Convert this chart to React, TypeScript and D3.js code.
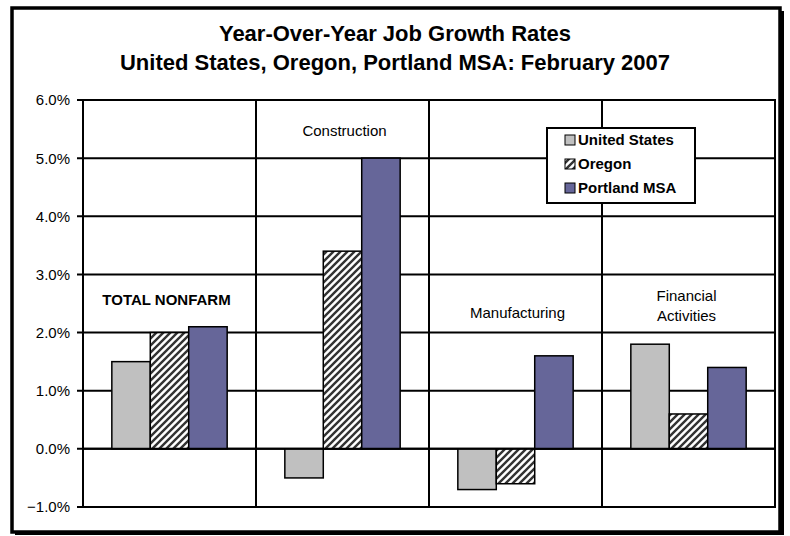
import React from "react";
import * as d3 from "d3";

const categories = ["TOTAL NONFARM", "Construction", "Manufacturing", "Financial Activities"];
const seriesNames = ["United States", "Oregon", "Portland MSA"];
const usValues = [1.5, -0.5, -0.7, 1.8];
const oregonValues = [2.0, 3.4, -0.6, 0.6];
const portlandValues = [2.1, 5.0, 1.6, 1.4];
const yTicks = [-1, 0, 1, 2, 3, 4, 5, 6];
const titleLines = ["Year-Over-Year Job Growth Rates", "United States, Oregon, Portland MSA: February 2007"];
// category label text lines
const categoryLabelLines = [["TOTAL NONFARM"], ["Construction"], ["Manufacturing"], ["Financial", "Activities"]];

const FONT = "'Liberation Sans', Arial, Helvetica, sans-serif";
const W = 790;
const H = 536;
const plot = { left: 83, right: 775, top: 100, bottom: 507 };
// label anchor heights in % units (where the text annotation sits inside each band)
const labelAnchorPct = [2.57, 5.47, 2.34, 2.47];
const labelBold = [true, false, false, false];

export default function App() {
  const x = d3.scaleBand<string>().domain(categories).range([plot.left, plot.right]).paddingInner(0).paddingOuter(0);
  const xs = d3.scaleBand<string>().domain(seriesNames).range([0, x.bandwidth()]).paddingInner(0).paddingOuter(0.75);
  const y = d3.scaleLinear().domain([-1, 6]).range([plot.bottom, plot.top]);
  const fmt = (v: number) => d3.format(".1f")(v) + "%";
  const seriesData = [usValues, oregonValues, portlandValues];
  const fills = ["#C0C0C0", "url(#hatch)", "#666699"];

  const legend = { x: 547, y: 128, w: 148, h: 75 };

  return (
    <svg width={W} height={H} style={{ position: "absolute", left: 0, top: 0, background: "#fff" }} fontFamily={FONT}>
      <defs>
        <pattern id="hatch" patternUnits="userSpaceOnUse" width={7} height={7}>
          <rect width={7} height={7} fill="#fff" />
          <path d="M-1.75,1.75 L1.75,-1.75 M0,7 L7,0 M5.25,8.75 L8.75,5.25" stroke="#333" strokeWidth={2.4} />
        </pattern>
      </defs>
      <rect x={0} y={0} width={W} height={H} fill="#fff" />
      {/* frame shadow */}
      <rect x={15} y={11} width={769} height={524} fill="#000" />
      <rect x={12} y={8} width={768} height={524} fill="#fff" stroke="#000" strokeWidth={3.5} />

      {/* title */}
      {titleLines.map((t, i) => (
        <text key={i} x={(plot.left + plot.right) / 2 - 34} y={41 + i * 29} textAnchor="middle" fontSize={22} fontWeight="bold" fill="#000">
          {t}
        </text>
      ))}

      {/* plot area */}
      <rect x={plot.left} y={plot.top} width={plot.right - plot.left} height={plot.bottom - plot.top} fill="#fff" stroke="#000" strokeWidth={2} />
      {yTicks.map((t) => (
        <g key={t}>
          <line x1={plot.left - 6} x2={plot.right} y1={y(t)} y2={y(t)} stroke="#000" strokeWidth={2} />
          <text x={70} y={y(t)} dy="0.36em" textAnchor="end" fontSize={15} fill="#000">
            {fmt(t)}
          </text>
        </g>
      ))}
      {categories.map((c, i) =>
        i > 0 ? (
          <line key={c} x1={x(c)!} x2={x(c)!} y1={plot.top} y2={plot.bottom} stroke="#000" strokeWidth={2} />
        ) : null
      )}

      {/* category labels */}
      {categories.map((c, i) => {
        const lines = categoryLabelLines[i];
        const cx = x(c)! + x.bandwidth() / 2 + (i === 0 ? -3 : i === 3 ? -2 : 2);
        const cy = y(labelAnchorPct[i]);
        return (
          <text key={c} x={cx} y={cy} textAnchor="middle" fontSize={15} fontWeight={labelBold[i] ? "bold" : "normal"} fill="#000">
            {lines.map((l, j) => (
              <tspan key={j} x={cx} y={cy + (j - (lines.length - 1) / 2) * 20} dy="0.36em">
                {l}
              </tspan>
            ))}
          </text>
        );
      })}

      {/* bars */}
      {categories.map((c, i) => (
        <g key={c} transform={`translate(${x(c)},0)`}>
          {seriesNames.map((s, k) => {
            const v = seriesData[k][i];
            const y0 = y(Math.max(0, v));
            const y1 = y(Math.min(0, v));
            return (
              <rect key={s} x={xs(s)!} y={y0} width={xs.bandwidth()} height={y1 - y0} fill={fills[k]} stroke="#000" strokeWidth={1.5} />
            );
          })}
        </g>
      ))}
      <line x1={plot.left} x2={plot.right} y1={y(0)} y2={y(0)} stroke="#000" strokeWidth={2} />

      {/* legend */}
      <rect x={legend.x} y={legend.y} width={legend.w} height={legend.h} fill="#fff" stroke="#000" strokeWidth={2} />
      {seriesNames.map((s, k) => {
        const cy = legend.y + 12 + k * 24;
        return (
          <g key={s}>
            <rect x={legend.x + 18} y={cy - 5} width={10} height={10} fill={fills[k]} stroke="#000" strokeWidth={1} />
            <text x={legend.x + 31} y={cy} dy="0.36em" fontSize={15} fontWeight="bold" fill="#000">
              {s}
            </text>
          </g>
        );
      })}
    </svg>
  );
}
